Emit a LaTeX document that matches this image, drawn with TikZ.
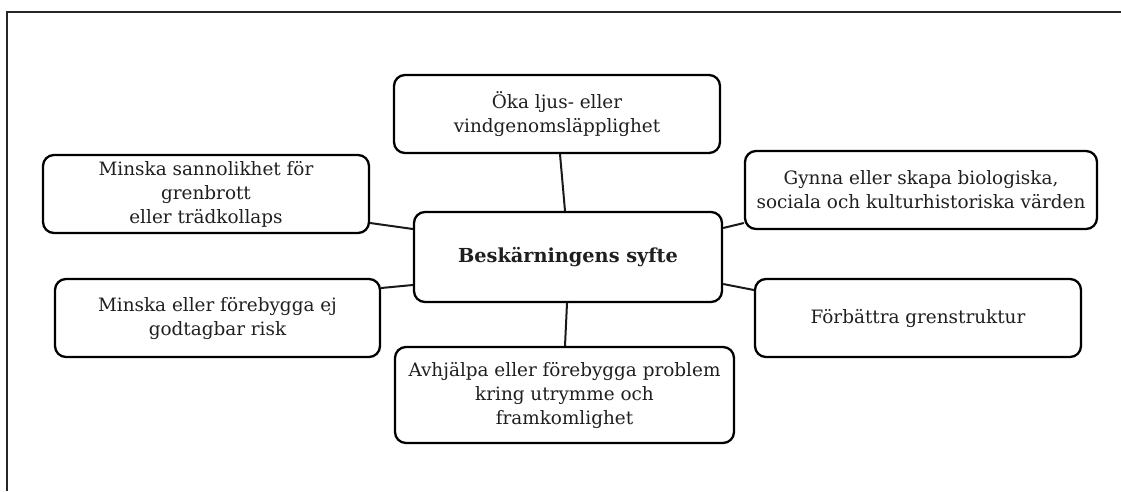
\documentclass[tikz,border=0pt]{standalone}
\usepackage{fontspec}
\setmainfont{DejaVu Serif}
\begin{document}
\begin{tikzpicture}[x=1pt,y=-1pt,
  box/.style={draw=black,line width=2.3pt,rounded corners=11pt,align=center,
    inner sep=0pt,font=\fontsize{18.4}{24}\selectfont,text=black!88},
  link/.style={draw=black!90,line width=2pt}]
\useasboundingbox (0,0) rectangle (1121,491);
\draw[line width=2.2pt,black!85] (7,491) -- (7,12) -- (1121,12);
\node[box,minimum width=326pt,minimum height=78pt] (top) at (557,114) {Öka ljus- eller\\vindgenomsläpplighet};
\node[box,minimum width=308pt,minimum height=90pt,font=\bfseries\fontsize{19.3}{24}\selectfont] (ctr) at (568,257) {Beskärningens syfte};
\node[box,minimum width=326pt,minimum height=78pt] (tl) at (206,194) {Minska sannolikhet för\\grenbrott\\eller trädkollaps};
\node[box,minimum width=352pt,minimum height=78pt] (tr) at (921,190) {Gynna eller skapa biologiska,\\sociala och kulturhistoriska värden};
\node[box,minimum width=326pt,minimum height=78pt] (br) at (918,318) {Förbättra grenstruktur};
\node[box,minimum width=325pt,minimum height=78pt] (bl) at (217.5,318) {Minska eller förebygga ej\\godtagbar risk};
\node[box,minimum width=339pt,minimum height=96pt] (bot) at (564.5,395) {Avhjälpa eller förebygga problem\\kring utrymme och\\framkomlighet};
\draw[link] ([xshift=3pt]top.south) -- ([xshift=-3pt]ctr.north);
\draw[link] ([yshift=-29pt]tl.east) -- ([yshift=28pt]ctr.west);
\draw[link] ([yshift=-33pt]tr.west) -- ([yshift=29pt]ctr.east);
\draw[link] ([yshift=28pt]br.west) -- ([yshift=-27pt]ctr.east);
\draw[link] ([yshift=30pt]bl.east) -- ([yshift=-28pt]ctr.west);
\draw[link] ([xshift=-1pt]ctr.south) -- ([xshift=0.5pt]bot.north);
\end{tikzpicture}
\end{document}
